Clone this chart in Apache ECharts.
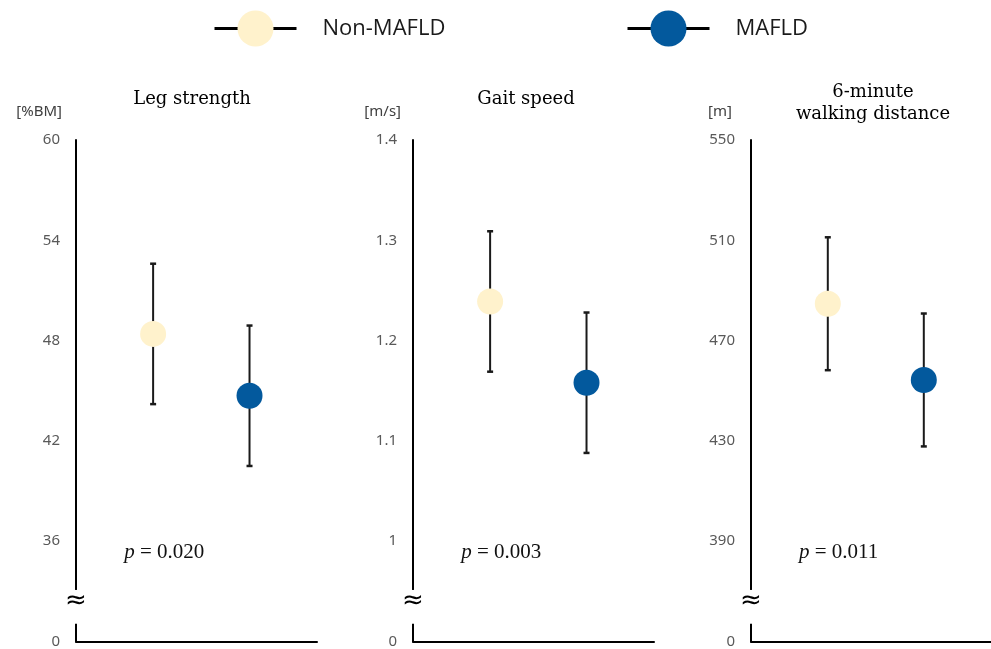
<!DOCTYPE html>
<html><head><meta charset="utf-8">
<script src="https://cdn.jsdelivr.net/npm/echarts@6/dist/echarts.min.js"></script>
<style>html,body{margin:0;padding:0;background:#fff}#c{width:991px;height:649px}</style>
</head><body><div id="c"></div>
<script>
// ---------- data ----------
const groups = ['Non-MAFLD', 'MAFLD'];
const panelTitles = ['Leg strength', 'Gait speed', '6-minute\nwalking distance'];
const units = ['[%BM]', '[m/s]', '[m]'];
const pValues = ['0.020', '0.003', '0.011'];
// tick labels: first one sits below the axis break
const tickLabels1 = [0, 36, 42, 48, 54, 60];
const tickLabels2 = [0, 1, 1.1, 1.2, 1.3, 1.4];
const tickLabels3 = [0, 390, 430, 470, 510, 550];
// means and SD (Non-MAFLD, MAFLD)
const means1 = [48.4, 44.7];   const sd1 = [4.2, 4.2];
const means2 = [1.239, 1.158]; const sd2 = [0.070, 0.070];
const means3 = [484.7, 454.3]; const sd3 = [26.5, 26.5];

// ---------- styling / layout ----------
const colors = ['#FFF2CC', '#03599D'];
const xPos = [32, 72];
const gridLefts = [76, 413, 751];
const titleCenters = [192, 526, 873];
const unitPad = [14, 12, 19];
const ticksAll = [tickLabels1, tickLabels2, tickLabels3];
const meansAll = [means1, means2, means3];
const sdAll = [sd1, sd2, sd3];

function toT(p, v) { const tk = ticksAll[p]; return (v - tk[1]) / (tk[2] - tk[1]); }

const chart = echarts.init(document.getElementById('c'), null, {renderer: 'canvas'});

const grid = [], xAxis = [], yAxis = [], series = [], title = [];
for (let p = 0; p < 3; p++) {
  const tk = ticksAll[p];
  grid.push({left: gridLefts[p], width: 241, top: 140, bottom: 3, containLabel: false});
  xAxis.push({gridIndex: p, type: 'value', min: 0, max: 100,
    axisLine: {show: true, onZero: false, lineStyle: {color: '#000', width: 2}},
    axisTick: {show: false}, axisLabel: {show: false}, splitLine: {show: false}});
  yAxis.push({gridIndex: p, type: 'value', min: -1, max: tk.length - 2, interval: 1,
    name: units[p], nameLocation: 'end', nameGap: 28,
    nameTextStyle: {align: 'right', verticalAlign: 'middle', padding: [0, unitPad[p], 0, 0],
      color: '#404040', fontSize: 15, fontFamily: 'Noto Sans'},
    axisLine: {show: true, onZero: false, lineStyle: {color: '#000', width: 2}},
    axisTick: {show: false}, splitLine: {show: false},
    axisLabel: {margin: 16, color: '#595959', fontSize: 15, fontFamily: 'Noto Sans',
      showMinLabel: true, showMaxLabel: true,
      formatter: v => { const i = Math.round(v) + 1; return tk[i] === undefined ? '' : String(tk[i]); }}});
  const multi = panelTitles[p].indexOf('\n') >= 0;
  title.push({text: panelTitles[p], left: titleCenters[p], top: multi ? 81 : 88, textAlign: 'center', padding: 0,
    textStyle: {fontFamily: 'DejaVu Serif', fontSize: 18, fontWeight: 'normal', color: '#000', lineHeight: 22}});
  const m = meansAll[p], s = sdAll[p];
  series.push({type: 'custom', xAxisIndex: p, yAxisIndex: p, z: 1, silent: true,
    data: groups.map((g, gi) => [xPos[gi], toT(p, m[gi] - s[gi]), toT(p, m[gi] + s[gi])]),
    renderItem: (params, api) => {
      const x = api.value(0), lo = api.value(1), hi = api.value(2);
      const a = api.coord([x, hi]), b = api.coord([x, lo]);
      const w = 3, st = {stroke: '#1a1a1a', lineWidth: 2};
      return {type: 'group', children: [
        {type: 'line', shape: {x1: a[0], y1: a[1], x2: b[0], y2: b[1]}, style: st},
        {type: 'line', shape: {x1: a[0] - w, y1: a[1], x2: a[0] + w, y2: a[1]}, style: {stroke: '#1a1a1a', lineWidth: 2.5}},
        {type: 'line', shape: {x1: b[0] - w, y1: b[1], x2: b[0] + w, y2: b[1]}, style: {stroke: '#1a1a1a', lineWidth: 2.5}}
      ]};
    }});
  groups.forEach((g, gi) => {
    series.push({type: 'line', name: g, xAxisIndex: p, yAxisIndex: p, z: 3, silent: true,
      data: [[xPos[gi], toT(p, m[gi])]], symbol: 'circle', symbolSize: 26,
      itemStyle: {color: colors[gi], borderWidth: 0},
      lineStyle: {color: '#000', width: 3}, emphasis: {disabled: true}});
  });
}

const legendBase = {top: 5.5, itemWidth: 82, itemHeight: 45, selectedMode: false,
  lineStyle: {width: 3, color: '#000'},
  textStyle: {fontSize: 22, fontFamily: 'Open Sans', color: '#1a1a1a', padding: [0, 0, 0, 21]}};

chart.setOption({
  animation: false,
  backgroundColor: '#fff',
  title: title,
  legend: [Object.assign({}, legendBase, {data: [groups[0]], left: 208}),
           Object.assign({}, legendBase, {data: [groups[1]], left: 621})],
  grid: grid, xAxis: xAxis, yAxis: yAxis, series: series
});

// axis breaks and p-values, positioned through the axes
const gfx = [];
for (let p = 0; p < 3; p++) {
  const top = chart.convertToPixel({gridIndex: p}, [0, -0.486]);
  const bot = chart.convertToPixel({gridIndex: p}, [0, -0.823]);
  const mid = chart.convertToPixel({gridIndex: p}, [0, -0.6]);
  gfx.push({type: 'rect', shape: {x: top[0] - 4, y: top[1], width: 8, height: bot[1] - top[1]},
    style: {fill: '#fff'}, z: 100});
  gfx.push({type: 'text', x: mid[0], y: mid[1], z: 101,
    style: {text: '≈', fontSize: 26, fontFamily: 'DejaVu Sans', fill: '#000', align: 'center', verticalAlign: 'middle'}});
  const pp = chart.convertToPixel({gridIndex: p}, [20, -0.11]);
  gfx.push({type: 'text', x: pp[0], y: pp[1], z: 101,
    style: {text: '{i|p} = ' + pValues[p], fontSize: 21, fontFamily: 'Liberation Serif', fill: '#111',
      align: 'left', verticalAlign: 'middle',
      rich: {i: {fontStyle: 'italic', fontSize: 21, fontFamily: 'Liberation Serif', fill: '#111'}}}});
}
chart.setOption({graphic: gfx});
</script>
</body></html>
